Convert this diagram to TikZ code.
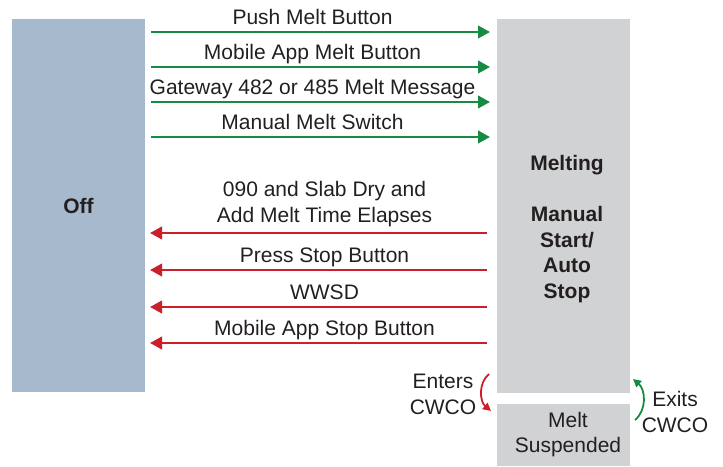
\documentclass[tikz,border=0pt]{standalone}
\usepackage{fontspec}
\setmainfont{Liberation Sans}
\usetikzlibrary{arrows.meta,positioning,calc}

\definecolor{offblue}{HTML}{A6B9CD}
\definecolor{meltgray}{HTML}{D1D2D4}
\definecolor{gogreen}{HTML}{178A43}
\definecolor{stopred}{HTML}{CB2029}
\definecolor{inkgray}{HTML}{231F20}

\begin{document}
\begin{tikzpicture}[
    x=1pt, y=1pt,
    node font=\fontsize{21}{25.7}\selectfont,
    text=inkgray,
    state box/.style={fill=#1, draw=none, inner sep=0pt, outer sep=0pt, minimum width=133pt},
    go arrow/.style={gogreen, line width=2.4pt, -{Triangle[length=12pt,width=12.5pt]}},
    stop arrow/.style={stopred, line width=2.4pt, -{Triangle[length=12pt,width=12.5pt]}},
    cwco arrow/.style={line width=1.8pt, -{Triangle[length=8pt,width=8pt]}},
    arrow text/.style={anchor=base, inner sep=0pt, text=inkgray},
]
\useasboundingbox (0,0) rectangle (723,-466);

% === States ===
\node[state box=offblue, minimum height=373pt, font=\bfseries] (off) at (78.5,-205.5) {Off};
\node[state box=meltgray, minimum height=374pt] (melting) at (563.5,-206) {};
\node[state box=meltgray, minimum height=62pt] (suspended) at (563.5,-435) {};

% State texts
\node[align=center, font=\bfseries] (meltingtext) at (567,-229) {Melting\\[25.7pt]Manual\\Start/\\Auto\\Stop};
\node[align=center] (suspendedtext) at (568,-434.7) {Melt\\Suspended};

% === Off -> Melting ===
\foreach \dy/\txt in {13/Push Melt Button, 48/Mobile App Melt Button,
    83/Gateway 482 or 485 Melt Message, 118/Manual Melt Switch} {
    \draw[go arrow] ($(off.north east)+(6,-\dy)$) -- ($(melting.north west)+(-7,-\dy)$)
        node[arrow text, midway, xshift=-8pt, yshift=7.5pt] (go\dy) {\txt};
}

% === Melting -> Off ===
\draw[stop arrow] ($(melting.north west)+(-10,-214)$) -- ($(off.north east)+(5,-214)$)
    node[arrow text, midway, align=center, anchor=south, xshift=6pt, yshift=5pt] (stop214)
    {090 and Slab Dry and\\Add Melt Time Elapses};
\foreach \dy/\txt in {251/Press Stop Button, 288/WWSD, 324/Mobile App Stop Button} {
    \draw[stop arrow] ($(melting.north west)+(-10,-\dy)$) -- ($(off.north east)+(5,-\dy)$)
        node[arrow text, midway, xshift=6pt, yshift=7.5pt] (stop\dy) {\txt};
}

% === CWCO ===
\draw[cwco arrow, stopred] ($(melting.south west)+(-8,19)$) to[out=220, in=140]
    ($(suspended.north west)+(-6,-7)$);
\draw[cwco arrow, gogreen] ($(suspended.north east)+(5,-16)$) to[out=40, in=-40]
    ($(melting.south east)+(3,14)$);
\node[align=center] (enters) at (443,-394.5) {Enters\\CWCO};
\node[align=center] (exits) at (675,-412) {Exits\\CWCO};

\end{tikzpicture}
\end{document}
